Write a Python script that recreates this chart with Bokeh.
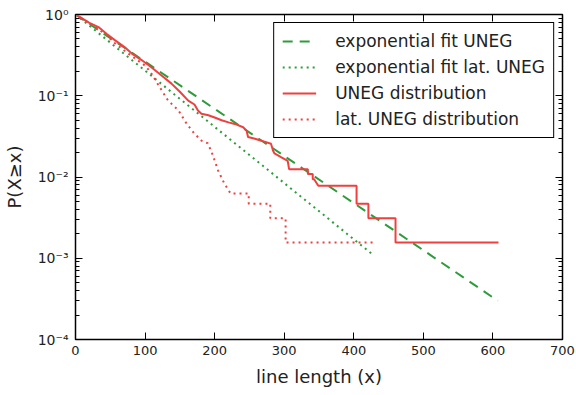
from bokeh.plotting import figure
from bokeh.models import (Legend, LegendItem, LinearAxis, LogAxis, FixedTicker,
                          CustomJSTickFormatter)
from bokeh.embed import file_html
from bokeh.resources import INLINE

# ---- data ----
# exponential fits (end points of straight lines on log scale)
fit_uneg_x = [0, 607]
fit_uneg_p = [1.0, 3.0e-4]
fit_lat_x = [0, 425]
fit_lat_p = [1.0, 1.15e-3]

# empirical CCDF of UNEG line lengths (curve vertices)
uneg_x = [0, 10, 20, 33, 45, 57, 70, 81, 95, 109, 125, 138, 150, 162, 171, 176,
          181, 191, 200, 210, 220, 229, 241, 246, 248, 258, 267, 281, 284, 286,
          296, 305, 307, 334, 334, 341, 341, 343, 349, 404, 404, 421, 421, 460,
          460, 608]
uneg_p = [1.0, 0.89, 0.79, 0.70, 0.575, 0.48, 0.40, 0.33, 0.275, 0.224, 0.174,
          0.141, 0.112, 0.087, 0.078, 0.066, 0.060, 0.0575, 0.054, 0.050, 0.047,
          0.045, 0.041, 0.037, 0.031, 0.0295, 0.028, 0.0257, 0.021, 0.0195,
          0.0174, 0.0158, 0.0125, 0.0125, 0.0109, 0.0109, 0.0094, 0.0094,
          0.0078, 0.0078, 0.0047, 0.0047, 0.0031, 0.0031, 0.00156, 0.00156]

# empirical CCDF of lateral UNEG line lengths (curve vertices)
lat_x = [0, 15, 30, 45, 57, 70, 85, 100, 108, 116, 124, 133, 148, 160, 170, 181,
         190, 196, 205, 214, 223, 249, 249, 280, 280, 302, 302, 430]
lat_p = [1.0, 0.83, 0.69, 0.55, 0.44, 0.36, 0.29, 0.235, 0.195, 0.15, 0.116,
         0.0875, 0.066, 0.045, 0.035, 0.028, 0.026, 0.020, 0.012, 0.0083,
         0.00625, 0.00625, 0.0047, 0.0047, 0.0031, 0.0031, 0.00156, 0.00156]

x_ticks = [0, 100, 200, 300, 400, 500, 600, 700]
y_ticks = [1e-4, 1e-3, 1e-2, 1e-1, 1.0]
labels = ["exponential fit UNEG", "exponential fit lat. UNEG",
          "UNEG distribution", "lat. UNEG distribution"]

GREEN = "#2e9b3c"
RED = "#ef4040"
FONT = "DejaVu Sans"

p = figure(width=576, height=395, x_range=(0, 700), y_range=(1e-4, 1.0),
           y_axis_type="log", output_backend="svg", toolbar_location=None,
           min_border_left=74, min_border_right=14, min_border_top=14,
           min_border_bottom=56)
p.background_fill_color = "white"
p.border_fill_color = "white"
p.grid.visible = False
p.outline_line_color = "black"
p.outline_line_width = 1.5
p.outline_line_alpha = 1.0

r1 = p.line(fit_uneg_x, fit_uneg_p, line_color=GREEN, line_width=2, line_dash="10 7")
r2 = p.line(fit_lat_x, fit_lat_p, line_color=GREEN, line_width=2, line_dash="2 4")
r3 = p.line(uneg_x, uneg_p, line_color=RED, line_width=2)
r4 = p.line(lat_x, lat_p, line_color=RED, line_width=2, line_dash="2 4")

minor = [k * 10.0 ** e for e in range(-4, 0) for k in range(2, 10)]
sup_js = """
const e = Math.round(Math.log10(tick));
const m = {"0":"\u2070","1":"\u00b9","2":"\u00b2","3":"\u00b3","4":"\u2074","-":"\u207b"};
return "10" + String(e).split("").map(c => m[c]).join("");
"""
blank = CustomJSTickFormatter(code="return '';")

def style(ax):
    ax.major_tick_in = 7
    ax.major_tick_out = 0
    ax.minor_tick_in = 4
    ax.minor_tick_out = 0
    ax.major_tick_line_color = "black"
    ax.minor_tick_line_color = "black"
    ax.axis_line_color = None
    ax.major_label_text_font = FONT
    ax.major_label_text_font_size = "13px"
    ax.major_label_text_color = "#222222"
    ax.axis_label_text_font = FONT
    ax.axis_label_text_font_size = "18px"
    ax.axis_label_text_font_style = "normal"
    ax.axis_label_text_color = "#222222"

xa = p.xaxis[0]
xa.ticker = FixedTicker(ticks=x_ticks, minor_ticks=[])
style(xa)
xa.axis_label = "line length (x)"
xa.major_label_standoff = 6
xa.axis_label_standoff = 8

ya = p.yaxis[0]
ya.ticker = FixedTicker(ticks=y_ticks, minor_ticks=minor)
ya.formatter = CustomJSTickFormatter(code=sup_js)
style(ya)
ya.major_label_text_font_size = "14px"
ya.axis_label = "P(X\u2265x)"
ya.major_label_standoff = 7
ya.axis_label_standoff = 10

top = LinearAxis(ticker=FixedTicker(ticks=x_ticks, minor_ticks=[]), formatter=blank)
style(top)
top.major_label_standoff = 0
top.major_label_text_font_size = "1px"
p.add_layout(top, "above")

right = LogAxis(ticker=FixedTicker(ticks=y_ticks, minor_ticks=minor), formatter=blank)
style(right)
right.major_label_standoff = 0
right.major_label_text_font_size = "1px"
p.add_layout(right, "right")

legend = Legend(items=[LegendItem(label=labels[0], renderers=[r1]),
                       LegendItem(label=labels[1], renderers=[r2]),
                       LegendItem(label=labels[2], renderers=[r3]),
                       LegendItem(label=labels[3], renderers=[r4])],
                location="top_right")
legend.label_text_font = FONT
legend.label_text_font_size = "17px"
legend.label_text_color = "#222222"
legend.glyph_width = 34
legend.glyph_height = 20
legend.label_height = 20
legend.spacing = 6
legend.padding = 8
legend.margin = 8
legend.label_standoff = 19
legend.border_line_color = "black"
legend.border_line_width = 1.5
legend.border_line_alpha = 1.0
legend.background_fill_alpha = 1.0
p.add_layout(legend)

open("out.html", "w").write(file_html(p, INLINE))
